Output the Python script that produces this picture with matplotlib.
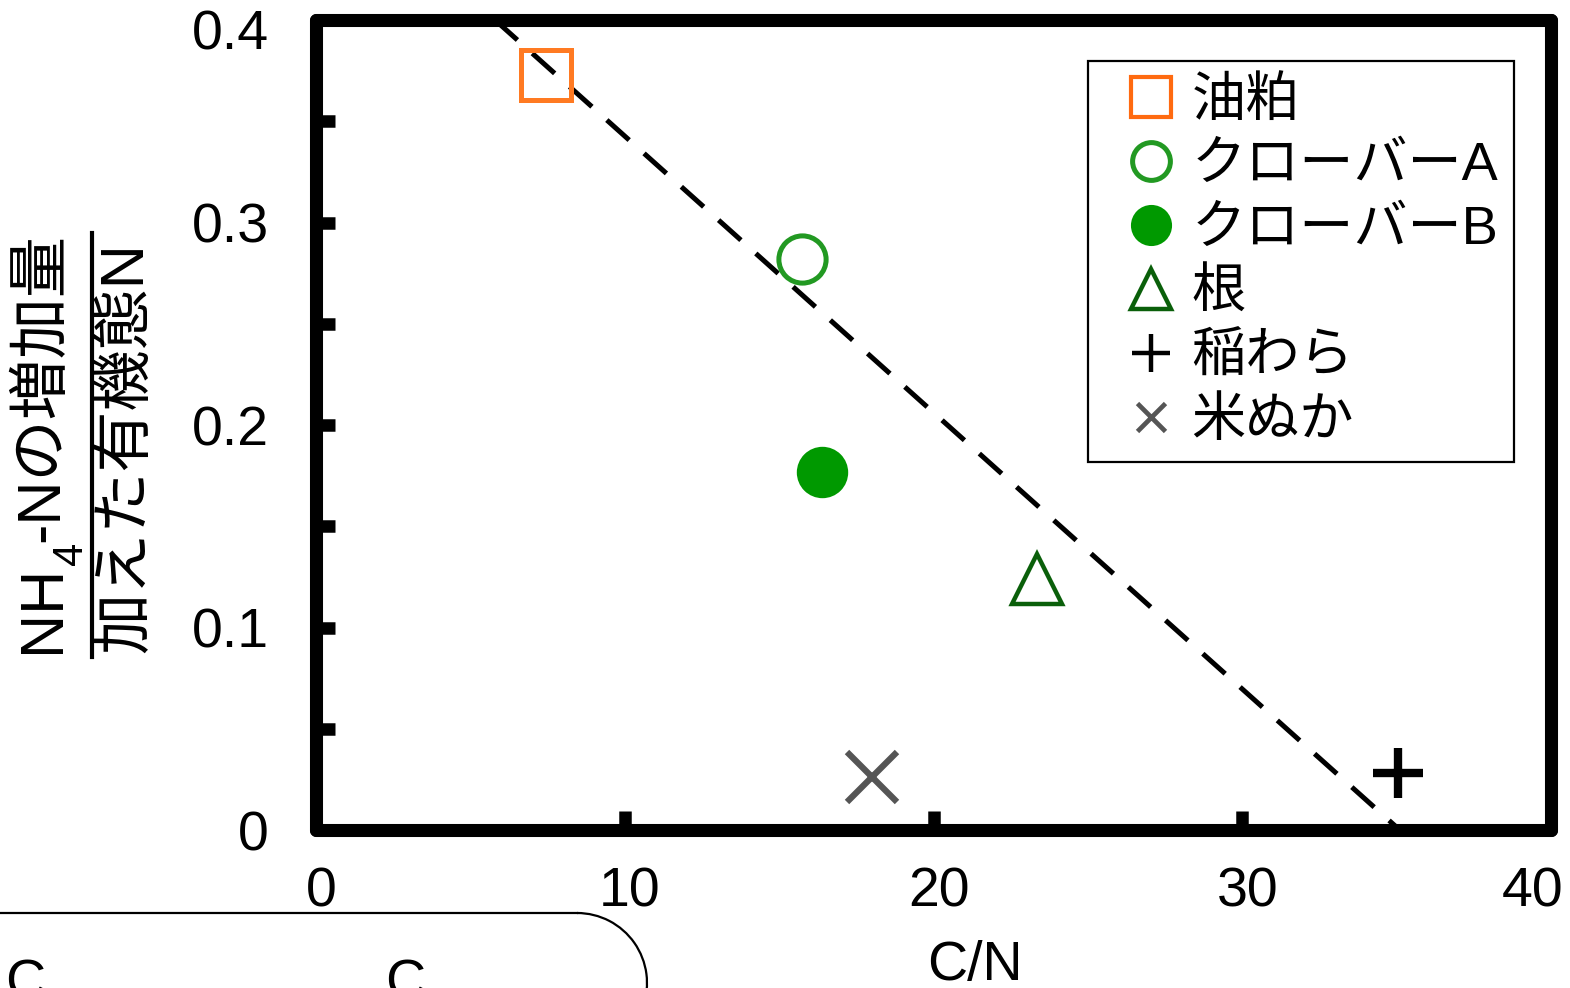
import matplotlib
matplotlib.use("Agg")
import matplotlib.pyplot as plt
from matplotlib.lines import Line2D
from matplotlib.patches import Arc
from matplotlib.transforms import IdentityTransform, ScaledTranslation

plt.rcParams['font.family'] = ['Liberation Sans', 'Noto Sans CJK JP', 'DejaVu Sans']

# data
materials = ['油粕', 'クローバーA', 'クローバーB', '根', '稲わら', '米ぬか']
cn_ratio = [7.45, 15.75, 16.4, 23.35, 35.05, 18.0]
nh4_ratio = [0.373, 0.282, 0.177, 0.124, 0.028, 0.026]
fit_x = [5.8, 35.1]
fit_y = [0.4, 0.0]
xticks = [0, 10, 20, 30, 40]
yticks = [0, 0.1, 0.2, 0.3, 0.4]
ytick_labels = ['0', '0.1', '0.2', '0.3', '0.4']
yminor = [0.05, 0.15, 0.25, 0.35]

styles = [
    dict(marker='s', ms=36, mfc='none', mec='#FF7A22', mew=3.6),
    dict(marker='o', ms=34, mfc='none', mec='#229922', mew=3.6),
    dict(marker='o', ms=37, mfc='#009900', mec='#009900', mew=0),
    dict(marker='^', ms=36, mfc='none', mec='#0A5F0A', mew=3.2),
    dict(marker='+', ms=36, mfc='none', mec='black', mew=6),
    dict(marker='x', ms=36, mfc='none', mec='#555555', mew=4.5),
]

W, H = 1570, 988
fig = plt.figure(figsize=(15.7, 9.88), dpi=100)
ax = fig.add_axes([316 / W, 1 - 830 / H, (1551 - 316) / W, (830 - 20) / H])

ax.plot(fit_x, fit_y, color='black', lw=3.6, dashes=(6, 4), zorder=1)
for name, x, y, st in zip(materials, cn_ratio, nh4_ratio, styles):
    ax.plot([x], [y], linestyle='none', label=name, zorder=3, **st)

ax.set_xlim(0, 40)
ax.set_ylim(0, 0.4)
ax.set_xticks(xticks)
ax.set_xticklabels([str(t) for t in xticks])
ax.set_yticks(yticks)
ax.set_yticklabels(ytick_labels)
ax.set_yticks(yminor, minor=True)
ax.tick_params(axis='both', which='both', direction='in', length=14, width=9,
               labelsize=40, color='black')
ax.tick_params(axis='y', pad=34)
ax.tick_params(axis='x', pad=26)
for s in ax.spines.values():
    s.set_linewidth(9.4)
    s.set_capstyle('round')

# nudge tick labels like the original
xlabs = ax.get_xticklabels()
for i, lab in enumerate(xlabs):
    dx = -18 if i == len(xlabs) - 1 else 5
    lab.set_transform(lab.get_transform() + ScaledTranslation(dx / 100, 0, fig.dpi_scale_trans))
ylabs = ax.get_yticklabels()
ylabs[-1].set_transform(ylabs[-1].get_transform() + ScaledTranslation(0, -9 / 100, fig.dpi_scale_trans))

leg = ax.legend(loc='upper right', bbox_to_anchor=(0.9697, 0.949), borderaxespad=0,
                fontsize=39, markerscale=0.8, frameon=True, fancybox=False,
                edgecolor='black', framealpha=1, handlelength=1.78,
                handletextpad=-0.15, labelspacing=0.26, borderpad=0.28)
leg.get_frame().set_linewidth(1.6)
hs = leg.legend_handles
hs[0].set_markeredgecolor('#FF6A10')
hs[0].set_markeredgewidth(3)
hs[4].set_markeredgewidth(3.2)
hs[4].set_markersize(27)
hs[5].set_markersize(20)
hs[5].set_markeredgewidth(3.4)

# y label as a fraction
renderer = fig.canvas.get_renderer()
y = H - 653
for s, fs, xc in [('NH', 44, 43), ('4', 30, 71), ('-Nの増加量', 44, 43)]:
    t = fig.text(xc / W, y / H, s, rotation=90, ha='center', va='bottom', fontsize=fs)
    y += t.get_window_extent(renderer).height
fig.text(127 / W, 1 - 448 / H, '加えた有機態N', rotation=90,
         ha='center', va='center', fontsize=44)
fig.add_artist(Line2D([92 / W, 92 / W], [1 - 233 / H, 1 - 657 / H],
                      transform=fig.transFigure, color='black', lw=3))

# x label
fig.text(975 / W, (H - 980) / H, 'C/N', ha='center', va='baseline', fontsize=40)

# cropped fragment at bottom-left
fig.add_artist(Line2D([0, 577], [75, 75], transform=IdentityTransform(),
                      color='black', lw=1.6))
fig.add_artist(Arc((577, 5), 140, 140, theta1=-20, theta2=90,
                   transform=IdentityTransform(), color='black', lw=1.6))
fig.text(5 / W, -10 / H, 'C', ha='left', va='baseline', fontsize=40)
fig.text(385 / W, -10 / H, 'C', ha='left', va='baseline', fontsize=40)

fig.savefig('out.png', dpi=100)
